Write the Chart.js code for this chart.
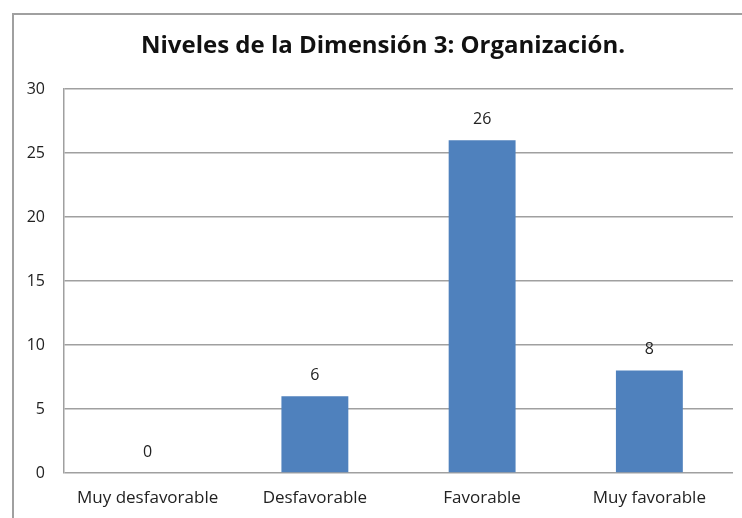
<!DOCTYPE html>
<html>
<head>
<meta charset="utf-8">
<script src="https://cdn.jsdelivr.net/npm/chart.js@4"></script>
<style>
  html, body { margin: 0; padding: 0; background: #fff; }
  #wrap { width: 742px; height: 518px; position: relative; }
</style>
</head>
<body>
<div id="wrap"><canvas id="grafico"></canvas></div>
<script>
// Datos del gráfico
const categorias = ['Muy desfavorable', 'Desfavorable', 'Favorable', 'Muy favorable'];
const valores = [0, 6, 26, 8];
const titulo = 'Niveles de la Dimensión 3: Organización.';

const fuente = "'Open Sans', 'Liberation Sans', sans-serif";

// Marco exterior y título del gráfico (como en Excel)
const marco = {
    id: 'marco',
    beforeDraw(chart) {
        const ctx = chart.ctx;
        ctx.save();
        ctx.fillStyle = '#fff';
        ctx.fillRect(0, 0, chart.width, chart.height);
        ctx.strokeStyle = '#a0a0a0';
        ctx.lineWidth = 2;
        ctx.strokeRect(13, 14, 900, 700);
        ctx.font = 'bold 24px ' + fuente;
        ctx.fillStyle = '#111';
        ctx.textAlign = 'center';
        ctx.textBaseline = 'middle';
        ctx.fillText(titulo, 383, 46);
        ctx.restore();
    }
};

// Etiquetas de valor encima de cada barra
const etiquetas = {
    id: 'etiquetas',
    afterDatasetsDraw(chart) {
        const ctx = chart.ctx;
        const meta = chart.getDatasetMeta(0);
        ctx.save();
        ctx.font = '16px ' + fuente;
        ctx.fillStyle = '#222';
        ctx.textAlign = 'center';
        ctx.textBaseline = 'middle';
        meta.data.forEach((barra, i) => {
            const p = barra.getProps(['x', 'y'], true);
            ctx.fillText(String(valores[i]), p.x, p.y - 21);
        });
        ctx.restore();
    }
};

const ctx = document.getElementById('grafico').getContext('2d');
new Chart(ctx, {
    type: 'bar',
    data: {
        labels: categorias,
        datasets: [{
            data: valores,
            backgroundColor: '#4f81bd',
            borderWidth: 0,
            categoryPercentage: 0.4,
            barPercentage: 1.0
        }]
    },
    options: {
        responsive: true,
        maintainAspectRatio: false,
        animation: false,
        layout: { padding: { left: 12, right: 9, top: 89, bottom: 0 } },
        plugins: {
            legend: { display: false },
            tooltip: { enabled: false },
            title: { display: false }
        },
        scales: {
            x: {
                grid: { display: false, drawTicks: false },
                border: { display: false },
                ticks: {
                    color: '#222',
                    font: { family: fuente, size: 17 },
                    padding: 15,
                    maxRotation: 0
                },
                afterFit(scale) { scale.height = 45; }
            },
            y: {
                min: 0,
                max: 30,
                ticks: {
                    stepSize: 5,
                    color: '#222',
                    font: { family: fuente, size: 16 },
                    padding: 19
                },
                grid: { color: '#a0a0a0', lineWidth: 1.5, drawTicks: false },
                border: { display: true, color: '#a0a0a0', width: 1.5 },
                afterFit(scale) { scale.width = 52; }
            }
        }
    },
    plugins: [marco, etiquetas]
});
</script>
</body>
</html>
